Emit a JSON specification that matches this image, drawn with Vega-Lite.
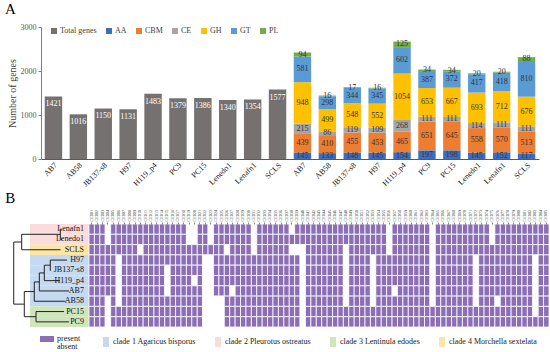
{
"$schema": "https://vega.github.io/schema/vega-lite/v6.json",
"padding": {"left": 5, "top": 2, "right": 0, "bottom": 0},
"background": "white",
"config": {"font": "Liberation Serif", "view": {"stroke": null}},
"spacing": 2,
"resolve": {"scale": {"color": "independent", "fill": "independent"}},
"datasets": {
"totals": [
{"key":"AB7|t","type":"Total genes","value":1421},{"key":"AB58|t","type":"Total genes","value":1016},{"key":"JB137-s8|t","type":"Total genes","value":1150},{"key":"H97|t","type":"Total genes","value":1131},{"key":"H119_p4|t","type":"Total genes","value":1483},{"key":"PC9|t","type":"Total genes","value":1379},{"key":"PC15|t","type":"Total genes","value":1386},{"key":"Lenedo1|t","type":"Total genes","value":1340},{"key":"Lenafn1|t","type":"Total genes","value":1354},{"key":"SCLS|t","type":"Total genes","value":1577}],
"cazy": [
{"key":"AB7|c","type":"AA","value":145},{"key":"AB7|c","type":"CBM","value":439},{"key":"AB7|c","type":"CE","value":215},{"key":"AB7|c","type":"GH","value":948},{"key":"AB7|c","type":"GT","value":581},{"key":"AB7|c","type":"PL","value":94},
{"key":"AB58|c","type":"AA","value":133},{"key":"AB58|c","type":"CBM","value":410},{"key":"AB58|c","type":"CE","value":86},{"key":"AB58|c","type":"GH","value":499},{"key":"AB58|c","type":"GT","value":298},{"key":"AB58|c","type":"PL","value":16},
{"key":"JB137-s8|c","type":"AA","value":148},{"key":"JB137-s8|c","type":"CBM","value":455},{"key":"JB137-s8|c","type":"CE","value":119},{"key":"JB137-s8|c","type":"GH","value":548},{"key":"JB137-s8|c","type":"GT","value":344},{"key":"JB137-s8|c","type":"PL","value":17},
{"key":"H97|c","type":"AA","value":145},{"key":"H97|c","type":"CBM","value":453},{"key":"H97|c","type":"CE","value":109},{"key":"H97|c","type":"GH","value":552},{"key":"H97|c","type":"GT","value":345},{"key":"H97|c","type":"PL","value":16},
{"key":"H119_p4|c","type":"AA","value":154},{"key":"H119_p4|c","type":"CBM","value":465},{"key":"H119_p4|c","type":"CE","value":268},{"key":"H119_p4|c","type":"GH","value":1054},{"key":"H119_p4|c","type":"GT","value":602},{"key":"H119_p4|c","type":"PL","value":125},
{"key":"PC9|c","type":"AA","value":197},{"key":"PC9|c","type":"CBM","value":651},{"key":"PC9|c","type":"CE","value":111},{"key":"PC9|c","type":"GH","value":653},{"key":"PC9|c","type":"GT","value":387},{"key":"PC9|c","type":"PL","value":34},
{"key":"PC15|c","type":"AA","value":198},{"key":"PC15|c","type":"CBM","value":645},{"key":"PC15|c","type":"CE","value":111},{"key":"PC15|c","type":"GH","value":667},{"key":"PC15|c","type":"GT","value":372},{"key":"PC15|c","type":"PL","value":34},
{"key":"Lenedo1|c","type":"AA","value":145},{"key":"Lenedo1|c","type":"CBM","value":558},{"key":"Lenedo1|c","type":"CE","value":114},{"key":"Lenedo1|c","type":"GH","value":693},{"key":"Lenedo1|c","type":"GT","value":417},{"key":"Lenedo1|c","type":"PL","value":20},
{"key":"Lenafn1|c","type":"AA","value":152},{"key":"Lenafn1|c","type":"CBM","value":570},{"key":"Lenafn1|c","type":"CE","value":111},{"key":"Lenafn1|c","type":"GH","value":712},{"key":"Lenafn1|c","type":"GT","value":418},{"key":"Lenafn1|c","type":"PL","value":20},
{"key":"SCLS|c","type":"AA","value":117},{"key":"SCLS|c","type":"CBM","value":513},{"key":"SCLS|c","type":"CE","value":111},{"key":"SCLS|c","type":"GH","value":676},{"key":"SCLS|c","type":"GT","value":810},{"key":"SCLS|c","type":"PL","value":88}],
"clades": [
{"g":"Lenafn1","clade":"clade 2 Pleurotus ostreatus"},{"g":"Lenedo1","clade":"clade 2 Pleurotus ostreatus"},{"g":"SCLS","clade":"clade 4 Morchella sextelata"},{"g":"H97","clade":"clade 1 Agaricus bisporus"},{"g":"JB137-s8","clade":"clade 1 Agaricus bisporus"},{"g":"H119_p4","clade":"clade 1 Agaricus bisporus"},{"g":"AB7","clade":"clade 1 Agaricus bisporus"},{"g":"AB58","clade":"clade 1 Agaricus bisporus"},{"g":"PC15","clade":"clade 3 Lentinula edodes"},{"g":"PC9","clade":"clade 3 Lentinula edodes"}],
"tree": [
{"x1":0.013,"x2":0.013,"y1":1.75,"y2":7.78},{"x1":0.013,"x2":0.17,"y1":1.75,"y2":1.75},{"x1":0.013,"x2":0.221,"y1":7.78,"y2":7.78},
{"x1":0.17,"x2":0.17,"y1":1.0,"y2":2.5},{"x1":0.17,"x2":0.93,"y1":1.0,"y2":1.0},{"x1":0.17,"x2":0.934,"y1":2.5,"y2":2.5},
{"x1":0.93,"x2":0.93,"y1":0.5,"y2":1.5},{"x1":0.93,"x2":0.963,"y1":0.5,"y2":0.5},{"x1":0.93,"x2":0.963,"y1":1.5,"y2":1.5},
{"x1":0.221,"x2":0.221,"y1":6.56,"y2":9.0},{"x1":0.221,"x2":0.452,"y1":9.0,"y2":9.0},{"x1":0.452,"x2":0.452,"y1":8.5,"y2":9.5},
{"x1":0.452,"x2":1.003,"y1":8.5,"y2":8.5},{"x1":0.452,"x2":1.101,"y1":9.5,"y2":9.5},
{"x1":0.221,"x2":0.418,"y1":6.56,"y2":6.56},{"x1":0.418,"x2":0.418,"y1":5.625,"y2":7.5},{"x1":0.418,"x2":1.032,"y1":7.5,"y2":7.5},
{"x1":0.418,"x2":0.517,"y1":5.625,"y2":5.625},{"x1":0.517,"x2":0.517,"y1":4.75,"y2":6.5},{"x1":0.517,"x2":1.101,"y1":6.5,"y2":6.5},
{"x1":0.517,"x2":0.615,"y1":4.75,"y2":4.75},{"x1":0.615,"x2":0.615,"y1":4.0,"y2":5.5},{"x1":0.615,"x2":0.924,"y1":5.5,"y2":5.5},
{"x1":0.615,"x2":0.733,"y1":4.0,"y2":4.0},{"x1":0.733,"x2":0.733,"y1":3.5,"y2":4.5},{"x1":0.733,"x2":1.062,"y1":3.5,"y2":3.5},{"x1":0.733,"x2":0.745,"y1":4.5,"y2":4.5}],
"pa": [
{"c":"CE001","g":"Lenafn1","p":1},{"c":"CE002","g":"Lenafn1","p":1},{"c":"CE003","g":"Lenafn1","p":1},{"c":"CE004","g":"Lenafn1","p":0},{"c":"CE005","g":"Lenafn1","p":1},{"c":"CE006","g":"Lenafn1","p":1},{"c":"CE007","g":"Lenafn1","p":1},{"c":"CE008","g":"Lenafn1","p":1},{"c":"CE009","g":"Lenafn1","p":1},{"c":"CE010","g":"Lenafn1","p":1},{"c":"CE011","g":"Lenafn1","p":1},{"c":"CE012","g":"Lenafn1","p":1},{"c":"CE013","g":"Lenafn1","p":1},{"c":"CE014","g":"Lenafn1","p":1},{"c":"CE015","g":"Lenafn1","p":1},{"c":"CE016","g":"Lenafn1","p":1},{"c":"CE017","g":"Lenafn1","p":1},{"c":"CE018","g":"Lenafn1","p":1},{"c":"CE019","g":"Lenafn1","p":0},{"c":"CE020","g":"Lenafn1","p":0},{"c":"CE021","g":"Lenafn1","p":1},{"c":"CE022","g":"Lenafn1","p":1},{"c":"CE023","g":"Lenafn1","p":0},{"c":"CE024","g":"Lenafn1","p":1},{"c":"CE025","g":"Lenafn1","p":1},{"c":"CE026","g":"Lenafn1","p":1},{"c":"CE027","g":"Lenafn1","p":1},{"c":"CE028","g":"Lenafn1","p":1},{"c":"CE029","g":"Lenafn1","p":1},{"c":"CE030","g":"Lenafn1","p":1},{"c":"CE031","g":"Lenafn1","p":0},{"c":"CE032","g":"Lenafn1","p":1},{"c":"CE033","g":"Lenafn1","p":1},{"c":"CE034","g":"Lenafn1","p":1},{"c":"CE035","g":"Lenafn1","p":1},{"c":"CE036","g":"Lenafn1","p":1},{"c":"CE037","g":"Lenafn1","p":1},{"c":"CE038","g":"Lenafn1","p":0},{"c":"CE039","g":"Lenafn1","p":1},{"c":"CE040","g":"Lenafn1","p":1},{"c":"CE041","g":"Lenafn1","p":1},{"c":"CE042","g":"Lenafn1","p":1},{"c":"CE043","g":"Lenafn1","p":1},{"c":"CE044","g":"Lenafn1","p":1},{"c":"CE045","g":"Lenafn1","p":1},{"c":"CE046","g":"Lenafn1","p":1},{"c":"CE047","g":"Lenafn1","p":1},{"c":"CE048","g":"Lenafn1","p":1},{"c":"CE049","g":"Lenafn1","p":1},{"c":"CE050","g":"Lenafn1","p":1},{"c":"CE051","g":"Lenafn1","p":1},{"c":"CE052","g":"Lenafn1","p":1},{"c":"CE053","g":"Lenafn1","p":1},{"c":"CE054","g":"Lenafn1","p":1},{"c":"CE055","g":"Lenafn1","p":1},{"c":"CE056","g":"Lenafn1","p":0},{"c":"CE057","g":"Lenafn1","p":1},{"c":"CE058","g":"Lenafn1","p":1},{"c":"CE059","g":"Lenafn1","p":1},{"c":"CE060","g":"Lenafn1","p":1},{"c":"CE061","g":"Lenafn1","p":1},{"c":"CE062","g":"Lenafn1","p":1},{"c":"CE063","g":"Lenafn1","p":1},{"c":"CE064","g":"Lenafn1","p":0},{"c":"CE065","g":"Lenafn1","p":1},{"c":"CE066","g":"Lenafn1","p":1},{"c":"CE067","g":"Lenafn1","p":1},{"c":"CE068","g":"Lenafn1","p":1},{"c":"CE069","g":"Lenafn1","p":1},{"c":"CE070","g":"Lenafn1","p":1},{"c":"CE071","g":"Lenafn1","p":1},{"c":"CE072","g":"Lenafn1","p":1},{"c":"CE073","g":"Lenafn1","p":1},{"c":"CE074","g":"Lenafn1","p":1},{"c":"CE075","g":"Lenafn1","p":0},{"c":"CE076","g":"Lenafn1","p":1},{"c":"CE077","g":"Lenafn1","p":1},{"c":"CE078","g":"Lenafn1","p":1},{"c":"CE079","g":"Lenafn1","p":1},{"c":"CE080","g":"Lenafn1","p":1},{"c":"CE081","g":"Lenafn1","p":1},{"c":"CE082","g":"Lenafn1","p":1},{"c":"CE083","g":"Lenafn1","p":1},{"c":"CE084","g":"Lenafn1","p":1},{"c":"CE085","g":"Lenafn1","p":1},
{"c":"CE001","g":"Lenedo1","p":1},{"c":"CE002","g":"Lenedo1","p":1},{"c":"CE003","g":"Lenedo1","p":1},{"c":"CE004","g":"Lenedo1","p":0},{"c":"CE005","g":"Lenedo1","p":1},{"c":"CE006","g":"Lenedo1","p":1},{"c":"CE007","g":"Lenedo1","p":1},{"c":"CE008","g":"Lenedo1","p":1},{"c":"CE009","g":"Lenedo1","p":1},{"c":"CE010","g":"Lenedo1","p":1},{"c":"CE011","g":"Lenedo1","p":1},{"c":"CE012","g":"Lenedo1","p":1},{"c":"CE013","g":"Lenedo1","p":1},{"c":"CE014","g":"Lenedo1","p":1},{"c":"CE015","g":"Lenedo1","p":1},{"c":"CE016","g":"Lenedo1","p":1},{"c":"CE017","g":"Lenedo1","p":1},{"c":"CE018","g":"Lenedo1","p":1},{"c":"CE019","g":"Lenedo1","p":0},{"c":"CE020","g":"Lenedo1","p":0},{"c":"CE021","g":"Lenedo1","p":1},{"c":"CE022","g":"Lenedo1","p":1},{"c":"CE023","g":"Lenedo1","p":0},{"c":"CE024","g":"Lenedo1","p":1},{"c":"CE025","g":"Lenedo1","p":1},{"c":"CE026","g":"Lenedo1","p":1},{"c":"CE027","g":"Lenedo1","p":1},{"c":"CE028","g":"Lenedo1","p":1},{"c":"CE029","g":"Lenedo1","p":1},{"c":"CE030","g":"Lenedo1","p":1},{"c":"CE031","g":"Lenedo1","p":0},{"c":"CE032","g":"Lenedo1","p":1},{"c":"CE033","g":"Lenedo1","p":1},{"c":"CE034","g":"Lenedo1","p":1},{"c":"CE035","g":"Lenedo1","p":1},{"c":"CE036","g":"Lenedo1","p":1},{"c":"CE037","g":"Lenedo1","p":1},{"c":"CE038","g":"Lenedo1","p":1},{"c":"CE039","g":"Lenedo1","p":1},{"c":"CE040","g":"Lenedo1","p":1},{"c":"CE041","g":"Lenedo1","p":1},{"c":"CE042","g":"Lenedo1","p":1},{"c":"CE043","g":"Lenedo1","p":1},{"c":"CE044","g":"Lenedo1","p":1},{"c":"CE045","g":"Lenedo1","p":1},{"c":"CE046","g":"Lenedo1","p":1},{"c":"CE047","g":"Lenedo1","p":1},{"c":"CE048","g":"Lenedo1","p":1},{"c":"CE049","g":"Lenedo1","p":1},{"c":"CE050","g":"Lenedo1","p":1},{"c":"CE051","g":"Lenedo1","p":1},{"c":"CE052","g":"Lenedo1","p":1},{"c":"CE053","g":"Lenedo1","p":1},{"c":"CE054","g":"Lenedo1","p":1},{"c":"CE055","g":"Lenedo1","p":1},{"c":"CE056","g":"Lenedo1","p":0},{"c":"CE057","g":"Lenedo1","p":1},{"c":"CE058","g":"Lenedo1","p":1},{"c":"CE059","g":"Lenedo1","p":1},{"c":"CE060","g":"Lenedo1","p":1},{"c":"CE061","g":"Lenedo1","p":1},{"c":"CE062","g":"Lenedo1","p":1},{"c":"CE063","g":"Lenedo1","p":1},{"c":"CE064","g":"Lenedo1","p":0},{"c":"CE065","g":"Lenedo1","p":1},{"c":"CE066","g":"Lenedo1","p":1},{"c":"CE067","g":"Lenedo1","p":1},{"c":"CE068","g":"Lenedo1","p":1},{"c":"CE069","g":"Lenedo1","p":1},{"c":"CE070","g":"Lenedo1","p":1},{"c":"CE071","g":"Lenedo1","p":1},{"c":"CE072","g":"Lenedo1","p":1},{"c":"CE073","g":"Lenedo1","p":1},{"c":"CE074","g":"Lenedo1","p":1},{"c":"CE075","g":"Lenedo1","p":0},{"c":"CE076","g":"Lenedo1","p":1},{"c":"CE077","g":"Lenedo1","p":1},{"c":"CE078","g":"Lenedo1","p":1},{"c":"CE079","g":"Lenedo1","p":1},{"c":"CE080","g":"Lenedo1","p":1},{"c":"CE081","g":"Lenedo1","p":1},{"c":"CE082","g":"Lenedo1","p":1},{"c":"CE083","g":"Lenedo1","p":1},{"c":"CE084","g":"Lenedo1","p":1},{"c":"CE085","g":"Lenedo1","p":1},
{"c":"CE001","g":"SCLS","p":1},{"c":"CE002","g":"SCLS","p":1},{"c":"CE003","g":"SCLS","p":1},{"c":"CE004","g":"SCLS","p":1},{"c":"CE005","g":"SCLS","p":1},{"c":"CE006","g":"SCLS","p":1},{"c":"CE007","g":"SCLS","p":1},{"c":"CE008","g":"SCLS","p":1},{"c":"CE009","g":"SCLS","p":1},{"c":"CE010","g":"SCLS","p":0},{"c":"CE011","g":"SCLS","p":1},{"c":"CE012","g":"SCLS","p":1},{"c":"CE013","g":"SCLS","p":1},{"c":"CE014","g":"SCLS","p":1},{"c":"CE015","g":"SCLS","p":1},{"c":"CE016","g":"SCLS","p":1},{"c":"CE017","g":"SCLS","p":1},{"c":"CE018","g":"SCLS","p":1},{"c":"CE019","g":"SCLS","p":1},{"c":"CE020","g":"SCLS","p":1},{"c":"CE021","g":"SCLS","p":1},{"c":"CE022","g":"SCLS","p":1},{"c":"CE023","g":"SCLS","p":1},{"c":"CE024","g":"SCLS","p":1},{"c":"CE025","g":"SCLS","p":1},{"c":"CE026","g":"SCLS","p":0},{"c":"CE027","g":"SCLS","p":1},{"c":"CE028","g":"SCLS","p":1},{"c":"CE029","g":"SCLS","p":1},{"c":"CE030","g":"SCLS","p":1},{"c":"CE031","g":"SCLS","p":0},{"c":"CE032","g":"SCLS","p":1},{"c":"CE033","g":"SCLS","p":1},{"c":"CE034","g":"SCLS","p":1},{"c":"CE035","g":"SCLS","p":1},{"c":"CE036","g":"SCLS","p":1},{"c":"CE037","g":"SCLS","p":1},{"c":"CE038","g":"SCLS","p":0},{"c":"CE039","g":"SCLS","p":0},{"c":"CE040","g":"SCLS","p":0},{"c":"CE041","g":"SCLS","p":1},{"c":"CE042","g":"SCLS","p":1},{"c":"CE043","g":"SCLS","p":1},{"c":"CE044","g":"SCLS","p":1},{"c":"CE045","g":"SCLS","p":1},{"c":"CE046","g":"SCLS","p":1},{"c":"CE047","g":"SCLS","p":1},{"c":"CE048","g":"SCLS","p":0},{"c":"CE049","g":"SCLS","p":1},{"c":"CE050","g":"SCLS","p":1},{"c":"CE051","g":"SCLS","p":1},{"c":"CE052","g":"SCLS","p":1},{"c":"CE053","g":"SCLS","p":1},{"c":"CE054","g":"SCLS","p":1},{"c":"CE055","g":"SCLS","p":1},{"c":"CE056","g":"SCLS","p":0},{"c":"CE057","g":"SCLS","p":1},{"c":"CE058","g":"SCLS","p":1},{"c":"CE059","g":"SCLS","p":1},{"c":"CE060","g":"SCLS","p":1},{"c":"CE061","g":"SCLS","p":1},{"c":"CE062","g":"SCLS","p":1},{"c":"CE063","g":"SCLS","p":1},{"c":"CE064","g":"SCLS","p":0},{"c":"CE065","g":"SCLS","p":1},{"c":"CE066","g":"SCLS","p":1},{"c":"CE067","g":"SCLS","p":1},{"c":"CE068","g":"SCLS","p":1},{"c":"CE069","g":"SCLS","p":1},{"c":"CE070","g":"SCLS","p":1},{"c":"CE071","g":"SCLS","p":1},{"c":"CE072","g":"SCLS","p":1},{"c":"CE073","g":"SCLS","p":1},{"c":"CE074","g":"SCLS","p":1},{"c":"CE075","g":"SCLS","p":1},{"c":"CE076","g":"SCLS","p":1},{"c":"CE077","g":"SCLS","p":1},{"c":"CE078","g":"SCLS","p":1},{"c":"CE079","g":"SCLS","p":1},{"c":"CE080","g":"SCLS","p":1},{"c":"CE081","g":"SCLS","p":1},{"c":"CE082","g":"SCLS","p":1},{"c":"CE083","g":"SCLS","p":1},{"c":"CE084","g":"SCLS","p":1},{"c":"CE085","g":"SCLS","p":1},
{"c":"CE001","g":"H97","p":1},{"c":"CE002","g":"H97","p":1},{"c":"CE003","g":"H97","p":1},{"c":"CE004","g":"H97","p":1},{"c":"CE005","g":"H97","p":1},{"c":"CE006","g":"H97","p":0},{"c":"CE007","g":"H97","p":1},{"c":"CE008","g":"H97","p":1},{"c":"CE009","g":"H97","p":1},{"c":"CE010","g":"H97","p":1},{"c":"CE011","g":"H97","p":1},{"c":"CE012","g":"H97","p":1},{"c":"CE013","g":"H97","p":1},{"c":"CE014","g":"H97","p":1},{"c":"CE015","g":"H97","p":1},{"c":"CE016","g":"H97","p":1},{"c":"CE017","g":"H97","p":1},{"c":"CE018","g":"H97","p":1},{"c":"CE019","g":"H97","p":1},{"c":"CE020","g":"H97","p":1},{"c":"CE021","g":"H97","p":1},{"c":"CE022","g":"H97","p":0},{"c":"CE023","g":"H97","p":0},{"c":"CE024","g":"H97","p":1},{"c":"CE025","g":"H97","p":1},{"c":"CE026","g":"H97","p":1},{"c":"CE027","g":"H97","p":1},{"c":"CE028","g":"H97","p":1},{"c":"CE029","g":"H97","p":1},{"c":"CE030","g":"H97","p":1},{"c":"CE031","g":"H97","p":1},{"c":"CE032","g":"H97","p":1},{"c":"CE033","g":"H97","p":1},{"c":"CE034","g":"H97","p":1},{"c":"CE035","g":"H97","p":1},{"c":"CE036","g":"H97","p":1},{"c":"CE037","g":"H97","p":1},{"c":"CE038","g":"H97","p":1},{"c":"CE039","g":"H97","p":1},{"c":"CE040","g":"H97","p":0},{"c":"CE041","g":"H97","p":1},{"c":"CE042","g":"H97","p":1},{"c":"CE043","g":"H97","p":1},{"c":"CE044","g":"H97","p":1},{"c":"CE045","g":"H97","p":1},{"c":"CE046","g":"H97","p":1},{"c":"CE047","g":"H97","p":1},{"c":"CE048","g":"H97","p":0},{"c":"CE049","g":"H97","p":1},{"c":"CE050","g":"H97","p":1},{"c":"CE051","g":"H97","p":1},{"c":"CE052","g":"H97","p":1},{"c":"CE053","g":"H97","p":0},{"c":"CE054","g":"H97","p":1},{"c":"CE055","g":"H97","p":1},{"c":"CE056","g":"H97","p":1},{"c":"CE057","g":"H97","p":1},{"c":"CE058","g":"H97","p":1},{"c":"CE059","g":"H97","p":1},{"c":"CE060","g":"H97","p":1},{"c":"CE061","g":"H97","p":1},{"c":"CE062","g":"H97","p":1},{"c":"CE063","g":"H97","p":1},{"c":"CE064","g":"H97","p":0},{"c":"CE065","g":"H97","p":1},{"c":"CE066","g":"H97","p":1},{"c":"CE067","g":"H97","p":1},{"c":"CE068","g":"H97","p":1},{"c":"CE069","g":"H97","p":1},{"c":"CE070","g":"H97","p":1},{"c":"CE071","g":"H97","p":1},{"c":"CE072","g":"H97","p":0},{"c":"CE073","g":"H97","p":1},{"c":"CE074","g":"H97","p":1},{"c":"CE075","g":"H97","p":1},{"c":"CE076","g":"H97","p":1},{"c":"CE077","g":"H97","p":1},{"c":"CE078","g":"H97","p":1},{"c":"CE079","g":"H97","p":1},{"c":"CE080","g":"H97","p":1},{"c":"CE081","g":"H97","p":1},{"c":"CE082","g":"H97","p":1},{"c":"CE083","g":"H97","p":0},{"c":"CE084","g":"H97","p":1},{"c":"CE085","g":"H97","p":1},
{"c":"CE001","g":"JB137-s8","p":1},{"c":"CE002","g":"JB137-s8","p":1},{"c":"CE003","g":"JB137-s8","p":1},{"c":"CE004","g":"JB137-s8","p":1},{"c":"CE005","g":"JB137-s8","p":1},{"c":"CE006","g":"JB137-s8","p":0},{"c":"CE007","g":"JB137-s8","p":1},{"c":"CE008","g":"JB137-s8","p":1},{"c":"CE009","g":"JB137-s8","p":1},{"c":"CE010","g":"JB137-s8","p":1},{"c":"CE011","g":"JB137-s8","p":1},{"c":"CE012","g":"JB137-s8","p":1},{"c":"CE013","g":"JB137-s8","p":1},{"c":"CE014","g":"JB137-s8","p":1},{"c":"CE015","g":"JB137-s8","p":0},{"c":"CE016","g":"JB137-s8","p":1},{"c":"CE017","g":"JB137-s8","p":1},{"c":"CE018","g":"JB137-s8","p":1},{"c":"CE019","g":"JB137-s8","p":1},{"c":"CE020","g":"JB137-s8","p":1},{"c":"CE021","g":"JB137-s8","p":1},{"c":"CE022","g":"JB137-s8","p":0},{"c":"CE023","g":"JB137-s8","p":0},{"c":"CE024","g":"JB137-s8","p":1},{"c":"CE025","g":"JB137-s8","p":1},{"c":"CE026","g":"JB137-s8","p":1},{"c":"CE027","g":"JB137-s8","p":1},{"c":"CE028","g":"JB137-s8","p":1},{"c":"CE029","g":"JB137-s8","p":1},{"c":"CE030","g":"JB137-s8","p":1},{"c":"CE031","g":"JB137-s8","p":1},{"c":"CE032","g":"JB137-s8","p":1},{"c":"CE033","g":"JB137-s8","p":1},{"c":"CE034","g":"JB137-s8","p":1},{"c":"CE035","g":"JB137-s8","p":1},{"c":"CE036","g":"JB137-s8","p":1},{"c":"CE037","g":"JB137-s8","p":1},{"c":"CE038","g":"JB137-s8","p":1},{"c":"CE039","g":"JB137-s8","p":1},{"c":"CE040","g":"JB137-s8","p":0},{"c":"CE041","g":"JB137-s8","p":1},{"c":"CE042","g":"JB137-s8","p":1},{"c":"CE043","g":"JB137-s8","p":1},{"c":"CE044","g":"JB137-s8","p":1},{"c":"CE045","g":"JB137-s8","p":1},{"c":"CE046","g":"JB137-s8","p":1},{"c":"CE047","g":"JB137-s8","p":1},{"c":"CE048","g":"JB137-s8","p":0},{"c":"CE049","g":"JB137-s8","p":1},{"c":"CE050","g":"JB137-s8","p":1},{"c":"CE051","g":"JB137-s8","p":1},{"c":"CE052","g":"JB137-s8","p":1},{"c":"CE053","g":"JB137-s8","p":0},{"c":"CE054","g":"JB137-s8","p":1},{"c":"CE055","g":"JB137-s8","p":1},{"c":"CE056","g":"JB137-s8","p":1},{"c":"CE057","g":"JB137-s8","p":1},{"c":"CE058","g":"JB137-s8","p":1},{"c":"CE059","g":"JB137-s8","p":1},{"c":"CE060","g":"JB137-s8","p":1},{"c":"CE061","g":"JB137-s8","p":1},{"c":"CE062","g":"JB137-s8","p":1},{"c":"CE063","g":"JB137-s8","p":1},{"c":"CE064","g":"JB137-s8","p":0},{"c":"CE065","g":"JB137-s8","p":1},{"c":"CE066","g":"JB137-s8","p":1},{"c":"CE067","g":"JB137-s8","p":1},{"c":"CE068","g":"JB137-s8","p":1},{"c":"CE069","g":"JB137-s8","p":1},{"c":"CE070","g":"JB137-s8","p":1},{"c":"CE071","g":"JB137-s8","p":1},{"c":"CE072","g":"JB137-s8","p":0},{"c":"CE073","g":"JB137-s8","p":1},{"c":"CE074","g":"JB137-s8","p":1},{"c":"CE075","g":"JB137-s8","p":1},{"c":"CE076","g":"JB137-s8","p":1},{"c":"CE077","g":"JB137-s8","p":1},{"c":"CE078","g":"JB137-s8","p":1},{"c":"CE079","g":"JB137-s8","p":1},{"c":"CE080","g":"JB137-s8","p":1},{"c":"CE081","g":"JB137-s8","p":1},{"c":"CE082","g":"JB137-s8","p":1},{"c":"CE083","g":"JB137-s8","p":0},{"c":"CE084","g":"JB137-s8","p":1},{"c":"CE085","g":"JB137-s8","p":1},
{"c":"CE001","g":"H119_p4","p":1},{"c":"CE002","g":"H119_p4","p":1},{"c":"CE003","g":"H119_p4","p":1},{"c":"CE004","g":"H119_p4","p":1},{"c":"CE005","g":"H119_p4","p":1},{"c":"CE006","g":"H119_p4","p":0},{"c":"CE007","g":"H119_p4","p":1},{"c":"CE008","g":"H119_p4","p":1},{"c":"CE009","g":"H119_p4","p":1},{"c":"CE010","g":"H119_p4","p":1},{"c":"CE011","g":"H119_p4","p":1},{"c":"CE012","g":"H119_p4","p":1},{"c":"CE013","g":"H119_p4","p":1},{"c":"CE014","g":"H119_p4","p":1},{"c":"CE015","g":"H119_p4","p":0},{"c":"CE016","g":"H119_p4","p":1},{"c":"CE017","g":"H119_p4","p":1},{"c":"CE018","g":"H119_p4","p":1},{"c":"CE019","g":"H119_p4","p":1},{"c":"CE020","g":"H119_p4","p":0},{"c":"CE021","g":"H119_p4","p":1},{"c":"CE022","g":"H119_p4","p":0},{"c":"CE023","g":"H119_p4","p":0},{"c":"CE024","g":"H119_p4","p":1},{"c":"CE025","g":"H119_p4","p":1},{"c":"CE026","g":"H119_p4","p":1},{"c":"CE027","g":"H119_p4","p":1},{"c":"CE028","g":"H119_p4","p":1},{"c":"CE029","g":"H119_p4","p":1},{"c":"CE030","g":"H119_p4","p":1},{"c":"CE031","g":"H119_p4","p":1},{"c":"CE032","g":"H119_p4","p":1},{"c":"CE033","g":"H119_p4","p":1},{"c":"CE034","g":"H119_p4","p":1},{"c":"CE035","g":"H119_p4","p":1},{"c":"CE036","g":"H119_p4","p":1},{"c":"CE037","g":"H119_p4","p":1},{"c":"CE038","g":"H119_p4","p":1},{"c":"CE039","g":"H119_p4","p":1},{"c":"CE040","g":"H119_p4","p":0},{"c":"CE041","g":"H119_p4","p":1},{"c":"CE042","g":"H119_p4","p":1},{"c":"CE043","g":"H119_p4","p":1},{"c":"CE044","g":"H119_p4","p":1},{"c":"CE045","g":"H119_p4","p":1},{"c":"CE046","g":"H119_p4","p":1},{"c":"CE047","g":"H119_p4","p":1},{"c":"CE048","g":"H119_p4","p":0},{"c":"CE049","g":"H119_p4","p":1},{"c":"CE050","g":"H119_p4","p":1},{"c":"CE051","g":"H119_p4","p":1},{"c":"CE052","g":"H119_p4","p":1},{"c":"CE053","g":"H119_p4","p":0},{"c":"CE054","g":"H119_p4","p":1},{"c":"CE055","g":"H119_p4","p":1},{"c":"CE056","g":"H119_p4","p":1},{"c":"CE057","g":"H119_p4","p":1},{"c":"CE058","g":"H119_p4","p":1},{"c":"CE059","g":"H119_p4","p":1},{"c":"CE060","g":"H119_p4","p":1},{"c":"CE061","g":"H119_p4","p":1},{"c":"CE062","g":"H119_p4","p":1},{"c":"CE063","g":"H119_p4","p":1},{"c":"CE064","g":"H119_p4","p":0},{"c":"CE065","g":"H119_p4","p":1},{"c":"CE066","g":"H119_p4","p":1},{"c":"CE067","g":"H119_p4","p":1},{"c":"CE068","g":"H119_p4","p":1},{"c":"CE069","g":"H119_p4","p":1},{"c":"CE070","g":"H119_p4","p":1},{"c":"CE071","g":"H119_p4","p":1},{"c":"CE072","g":"H119_p4","p":0},{"c":"CE073","g":"H119_p4","p":1},{"c":"CE074","g":"H119_p4","p":1},{"c":"CE075","g":"H119_p4","p":1},{"c":"CE076","g":"H119_p4","p":1},{"c":"CE077","g":"H119_p4","p":1},{"c":"CE078","g":"H119_p4","p":1},{"c":"CE079","g":"H119_p4","p":1},{"c":"CE080","g":"H119_p4","p":1},{"c":"CE081","g":"H119_p4","p":1},{"c":"CE082","g":"H119_p4","p":1},{"c":"CE083","g":"H119_p4","p":0},{"c":"CE084","g":"H119_p4","p":1},{"c":"CE085","g":"H119_p4","p":1},
{"c":"CE001","g":"AB7","p":1},{"c":"CE002","g":"AB7","p":1},{"c":"CE003","g":"AB7","p":1},{"c":"CE004","g":"AB7","p":1},{"c":"CE005","g":"AB7","p":1},{"c":"CE006","g":"AB7","p":0},{"c":"CE007","g":"AB7","p":1},{"c":"CE008","g":"AB7","p":1},{"c":"CE009","g":"AB7","p":1},{"c":"CE010","g":"AB7","p":1},{"c":"CE011","g":"AB7","p":1},{"c":"CE012","g":"AB7","p":1},{"c":"CE013","g":"AB7","p":1},{"c":"CE014","g":"AB7","p":1},{"c":"CE015","g":"AB7","p":0},{"c":"CE016","g":"AB7","p":1},{"c":"CE017","g":"AB7","p":1},{"c":"CE018","g":"AB7","p":1},{"c":"CE019","g":"AB7","p":1},{"c":"CE020","g":"AB7","p":1},{"c":"CE021","g":"AB7","p":1},{"c":"CE022","g":"AB7","p":0},{"c":"CE023","g":"AB7","p":0},{"c":"CE024","g":"AB7","p":1},{"c":"CE025","g":"AB7","p":1},{"c":"CE026","g":"AB7","p":1},{"c":"CE027","g":"AB7","p":0},{"c":"CE028","g":"AB7","p":1},{"c":"CE029","g":"AB7","p":1},{"c":"CE030","g":"AB7","p":1},{"c":"CE031","g":"AB7","p":1},{"c":"CE032","g":"AB7","p":1},{"c":"CE033","g":"AB7","p":1},{"c":"CE034","g":"AB7","p":1},{"c":"CE035","g":"AB7","p":1},{"c":"CE036","g":"AB7","p":1},{"c":"CE037","g":"AB7","p":1},{"c":"CE038","g":"AB7","p":1},{"c":"CE039","g":"AB7","p":1},{"c":"CE040","g":"AB7","p":0},{"c":"CE041","g":"AB7","p":1},{"c":"CE042","g":"AB7","p":1},{"c":"CE043","g":"AB7","p":1},{"c":"CE044","g":"AB7","p":1},{"c":"CE045","g":"AB7","p":1},{"c":"CE046","g":"AB7","p":1},{"c":"CE047","g":"AB7","p":1},{"c":"CE048","g":"AB7","p":0},{"c":"CE049","g":"AB7","p":1},{"c":"CE050","g":"AB7","p":1},{"c":"CE051","g":"AB7","p":1},{"c":"CE052","g":"AB7","p":1},{"c":"CE053","g":"AB7","p":0},{"c":"CE054","g":"AB7","p":1},{"c":"CE055","g":"AB7","p":1},{"c":"CE056","g":"AB7","p":1},{"c":"CE057","g":"AB7","p":0},{"c":"CE058","g":"AB7","p":1},{"c":"CE059","g":"AB7","p":1},{"c":"CE060","g":"AB7","p":1},{"c":"CE061","g":"AB7","p":1},{"c":"CE062","g":"AB7","p":1},{"c":"CE063","g":"AB7","p":1},{"c":"CE064","g":"AB7","p":0},{"c":"CE065","g":"AB7","p":1},{"c":"CE066","g":"AB7","p":1},{"c":"CE067","g":"AB7","p":1},{"c":"CE068","g":"AB7","p":1},{"c":"CE069","g":"AB7","p":1},{"c":"CE070","g":"AB7","p":1},{"c":"CE071","g":"AB7","p":1},{"c":"CE072","g":"AB7","p":0},{"c":"CE073","g":"AB7","p":1},{"c":"CE074","g":"AB7","p":1},{"c":"CE075","g":"AB7","p":1},{"c":"CE076","g":"AB7","p":1},{"c":"CE077","g":"AB7","p":1},{"c":"CE078","g":"AB7","p":1},{"c":"CE079","g":"AB7","p":1},{"c":"CE080","g":"AB7","p":1},{"c":"CE081","g":"AB7","p":1},{"c":"CE082","g":"AB7","p":1},{"c":"CE083","g":"AB7","p":0},{"c":"CE084","g":"AB7","p":1},{"c":"CE085","g":"AB7","p":1},
{"c":"CE001","g":"AB58","p":1},{"c":"CE002","g":"AB58","p":1},{"c":"CE003","g":"AB58","p":1},{"c":"CE004","g":"AB58","p":0},{"c":"CE005","g":"AB58","p":1},{"c":"CE006","g":"AB58","p":0},{"c":"CE007","g":"AB58","p":1},{"c":"CE008","g":"AB58","p":1},{"c":"CE009","g":"AB58","p":1},{"c":"CE010","g":"AB58","p":1},{"c":"CE011","g":"AB58","p":1},{"c":"CE012","g":"AB58","p":1},{"c":"CE013","g":"AB58","p":1},{"c":"CE014","g":"AB58","p":1},{"c":"CE015","g":"AB58","p":1},{"c":"CE016","g":"AB58","p":1},{"c":"CE017","g":"AB58","p":1},{"c":"CE018","g":"AB58","p":1},{"c":"CE019","g":"AB58","p":1},{"c":"CE020","g":"AB58","p":1},{"c":"CE021","g":"AB58","p":1},{"c":"CE022","g":"AB58","p":0},{"c":"CE023","g":"AB58","p":0},{"c":"CE024","g":"AB58","p":0},{"c":"CE025","g":"AB58","p":0},{"c":"CE026","g":"AB58","p":1},{"c":"CE027","g":"AB58","p":1},{"c":"CE028","g":"AB58","p":1},{"c":"CE029","g":"AB58","p":1},{"c":"CE030","g":"AB58","p":1},{"c":"CE031","g":"AB58","p":1},{"c":"CE032","g":"AB58","p":1},{"c":"CE033","g":"AB58","p":1},{"c":"CE034","g":"AB58","p":1},{"c":"CE035","g":"AB58","p":1},{"c":"CE036","g":"AB58","p":1},{"c":"CE037","g":"AB58","p":1},{"c":"CE038","g":"AB58","p":1},{"c":"CE039","g":"AB58","p":1},{"c":"CE040","g":"AB58","p":0},{"c":"CE041","g":"AB58","p":1},{"c":"CE042","g":"AB58","p":1},{"c":"CE043","g":"AB58","p":1},{"c":"CE044","g":"AB58","p":1},{"c":"CE045","g":"AB58","p":1},{"c":"CE046","g":"AB58","p":1},{"c":"CE047","g":"AB58","p":1},{"c":"CE048","g":"AB58","p":0},{"c":"CE049","g":"AB58","p":1},{"c":"CE050","g":"AB58","p":1},{"c":"CE051","g":"AB58","p":1},{"c":"CE052","g":"AB58","p":1},{"c":"CE053","g":"AB58","p":0},{"c":"CE054","g":"AB58","p":1},{"c":"CE055","g":"AB58","p":1},{"c":"CE056","g":"AB58","p":1},{"c":"CE057","g":"AB58","p":1},{"c":"CE058","g":"AB58","p":1},{"c":"CE059","g":"AB58","p":1},{"c":"CE060","g":"AB58","p":1},{"c":"CE061","g":"AB58","p":1},{"c":"CE062","g":"AB58","p":1},{"c":"CE063","g":"AB58","p":1},{"c":"CE064","g":"AB58","p":0},{"c":"CE065","g":"AB58","p":1},{"c":"CE066","g":"AB58","p":1},{"c":"CE067","g":"AB58","p":1},{"c":"CE068","g":"AB58","p":1},{"c":"CE069","g":"AB58","p":1},{"c":"CE070","g":"AB58","p":1},{"c":"CE071","g":"AB58","p":1},{"c":"CE072","g":"AB58","p":0},{"c":"CE073","g":"AB58","p":1},{"c":"CE074","g":"AB58","p":1},{"c":"CE075","g":"AB58","p":1},{"c":"CE076","g":"AB58","p":0},{"c":"CE077","g":"AB58","p":1},{"c":"CE078","g":"AB58","p":1},{"c":"CE079","g":"AB58","p":1},{"c":"CE080","g":"AB58","p":1},{"c":"CE081","g":"AB58","p":1},{"c":"CE082","g":"AB58","p":1},{"c":"CE083","g":"AB58","p":0},{"c":"CE084","g":"AB58","p":1},{"c":"CE085","g":"AB58","p":1},
{"c":"CE001","g":"PC15","p":1},{"c":"CE002","g":"PC15","p":1},{"c":"CE003","g":"PC15","p":1},{"c":"CE004","g":"PC15","p":0},{"c":"CE005","g":"PC15","p":1},{"c":"CE006","g":"PC15","p":1},{"c":"CE007","g":"PC15","p":1},{"c":"CE008","g":"PC15","p":1},{"c":"CE009","g":"PC15","p":1},{"c":"CE010","g":"PC15","p":1},{"c":"CE011","g":"PC15","p":1},{"c":"CE012","g":"PC15","p":1},{"c":"CE013","g":"PC15","p":1},{"c":"CE014","g":"PC15","p":1},{"c":"CE015","g":"PC15","p":1},{"c":"CE016","g":"PC15","p":1},{"c":"CE017","g":"PC15","p":1},{"c":"CE018","g":"PC15","p":1},{"c":"CE019","g":"PC15","p":1},{"c":"CE020","g":"PC15","p":1},{"c":"CE021","g":"PC15","p":1},{"c":"CE022","g":"PC15","p":0},{"c":"CE023","g":"PC15","p":0},{"c":"CE024","g":"PC15","p":0},{"c":"CE025","g":"PC15","p":0},{"c":"CE026","g":"PC15","p":1},{"c":"CE027","g":"PC15","p":1},{"c":"CE028","g":"PC15","p":1},{"c":"CE029","g":"PC15","p":1},{"c":"CE030","g":"PC15","p":1},{"c":"CE031","g":"PC15","p":1},{"c":"CE032","g":"PC15","p":1},{"c":"CE033","g":"PC15","p":1},{"c":"CE034","g":"PC15","p":1},{"c":"CE035","g":"PC15","p":1},{"c":"CE036","g":"PC15","p":1},{"c":"CE037","g":"PC15","p":1},{"c":"CE038","g":"PC15","p":1},{"c":"CE039","g":"PC15","p":1},{"c":"CE040","g":"PC15","p":0},{"c":"CE041","g":"PC15","p":1},{"c":"CE042","g":"PC15","p":1},{"c":"CE043","g":"PC15","p":1},{"c":"CE044","g":"PC15","p":1},{"c":"CE045","g":"PC15","p":1},{"c":"CE046","g":"PC15","p":1},{"c":"CE047","g":"PC15","p":1},{"c":"CE048","g":"PC15","p":1},{"c":"CE049","g":"PC15","p":1},{"c":"CE050","g":"PC15","p":1},{"c":"CE051","g":"PC15","p":1},{"c":"CE052","g":"PC15","p":1},{"c":"CE053","g":"PC15","p":1},{"c":"CE054","g":"PC15","p":1},{"c":"CE055","g":"PC15","p":1},{"c":"CE056","g":"PC15","p":1},{"c":"CE057","g":"PC15","p":1},{"c":"CE058","g":"PC15","p":1},{"c":"CE059","g":"PC15","p":1},{"c":"CE060","g":"PC15","p":1},{"c":"CE061","g":"PC15","p":1},{"c":"CE062","g":"PC15","p":1},{"c":"CE063","g":"PC15","p":1},{"c":"CE064","g":"PC15","p":1},{"c":"CE065","g":"PC15","p":1},{"c":"CE066","g":"PC15","p":1},{"c":"CE067","g":"PC15","p":1},{"c":"CE068","g":"PC15","p":1},{"c":"CE069","g":"PC15","p":1},{"c":"CE070","g":"PC15","p":1},{"c":"CE071","g":"PC15","p":1},{"c":"CE072","g":"PC15","p":1},{"c":"CE073","g":"PC15","p":1},{"c":"CE074","g":"PC15","p":1},{"c":"CE075","g":"PC15","p":1},{"c":"CE076","g":"PC15","p":1},{"c":"CE077","g":"PC15","p":1},{"c":"CE078","g":"PC15","p":1},{"c":"CE079","g":"PC15","p":1},{"c":"CE080","g":"PC15","p":1},{"c":"CE081","g":"PC15","p":1},{"c":"CE082","g":"PC15","p":1},{"c":"CE083","g":"PC15","p":0},{"c":"CE084","g":"PC15","p":1},{"c":"CE085","g":"PC15","p":1},
{"c":"CE001","g":"PC9","p":1},{"c":"CE002","g":"PC9","p":1},{"c":"CE003","g":"PC9","p":1},{"c":"CE004","g":"PC9","p":0},{"c":"CE005","g":"PC9","p":1},{"c":"CE006","g":"PC9","p":1},{"c":"CE007","g":"PC9","p":1},{"c":"CE008","g":"PC9","p":1},{"c":"CE009","g":"PC9","p":1},{"c":"CE010","g":"PC9","p":1},{"c":"CE011","g":"PC9","p":1},{"c":"CE012","g":"PC9","p":1},{"c":"CE013","g":"PC9","p":1},{"c":"CE014","g":"PC9","p":1},{"c":"CE015","g":"PC9","p":1},{"c":"CE016","g":"PC9","p":1},{"c":"CE017","g":"PC9","p":1},{"c":"CE018","g":"PC9","p":1},{"c":"CE019","g":"PC9","p":1},{"c":"CE020","g":"PC9","p":1},{"c":"CE021","g":"PC9","p":1},{"c":"CE022","g":"PC9","p":0},{"c":"CE023","g":"PC9","p":0},{"c":"CE024","g":"PC9","p":0},{"c":"CE025","g":"PC9","p":0},{"c":"CE026","g":"PC9","p":1},{"c":"CE027","g":"PC9","p":1},{"c":"CE028","g":"PC9","p":1},{"c":"CE029","g":"PC9","p":1},{"c":"CE030","g":"PC9","p":1},{"c":"CE031","g":"PC9","p":1},{"c":"CE032","g":"PC9","p":1},{"c":"CE033","g":"PC9","p":1},{"c":"CE034","g":"PC9","p":1},{"c":"CE035","g":"PC9","p":1},{"c":"CE036","g":"PC9","p":1},{"c":"CE037","g":"PC9","p":1},{"c":"CE038","g":"PC9","p":1},{"c":"CE039","g":"PC9","p":1},{"c":"CE040","g":"PC9","p":0},{"c":"CE041","g":"PC9","p":1},{"c":"CE042","g":"PC9","p":1},{"c":"CE043","g":"PC9","p":1},{"c":"CE044","g":"PC9","p":1},{"c":"CE045","g":"PC9","p":1},{"c":"CE046","g":"PC9","p":1},{"c":"CE047","g":"PC9","p":1},{"c":"CE048","g":"PC9","p":1},{"c":"CE049","g":"PC9","p":1},{"c":"CE050","g":"PC9","p":1},{"c":"CE051","g":"PC9","p":1},{"c":"CE052","g":"PC9","p":1},{"c":"CE053","g":"PC9","p":1},{"c":"CE054","g":"PC9","p":1},{"c":"CE055","g":"PC9","p":1},{"c":"CE056","g":"PC9","p":1},{"c":"CE057","g":"PC9","p":1},{"c":"CE058","g":"PC9","p":1},{"c":"CE059","g":"PC9","p":1},{"c":"CE060","g":"PC9","p":1},{"c":"CE061","g":"PC9","p":1},{"c":"CE062","g":"PC9","p":1},{"c":"CE063","g":"PC9","p":1},{"c":"CE064","g":"PC9","p":1},{"c":"CE065","g":"PC9","p":1},{"c":"CE066","g":"PC9","p":1},{"c":"CE067","g":"PC9","p":1},{"c":"CE068","g":"PC9","p":1},{"c":"CE069","g":"PC9","p":1},{"c":"CE070","g":"PC9","p":1},{"c":"CE071","g":"PC9","p":1},{"c":"CE072","g":"PC9","p":1},{"c":"CE073","g":"PC9","p":1},{"c":"CE074","g":"PC9","p":1},{"c":"CE075","g":"PC9","p":1},{"c":"CE076","g":"PC9","p":1},{"c":"CE077","g":"PC9","p":1},{"c":"CE078","g":"PC9","p":1},{"c":"CE079","g":"PC9","p":1},{"c":"CE080","g":"PC9","p":1},{"c":"CE081","g":"PC9","p":1},{"c":"CE082","g":"PC9","p":1},{"c":"CE083","g":"PC9","p":1},{"c":"CE084","g":"PC9","p":1},{"c":"CE085","g":"PC9","p":1}]
},
"vconcat": [
{
"width": 498, "height": 132,
"title": {"text": "A", "anchor": "start", "frame": "bounds", "fontSize": 15, "fontWeight": "normal", "offset": 6, "dx": -2},
"encoding": {
 "x": {"field": "key", "type": "nominal", "title": null,
  "scale": {"domain": ["AB7|t","AB58|t","JB137-s8|t","H97|t","H119_p4|t","PC9|t","PC15|t","Lenedo1|t","Lenafn1|t","SCLS|t","AB7|c","AB58|c","JB137-s8|c","H97|c","H119_p4|c","PC9|c","PC15|c","Lenedo1|c","Lenafn1|c","SCLS|c"], "paddingInner": 0.3, "paddingOuter": 0.15},
  "axis": {"labelExpr": "split(datum.label, '|')[0]", "labelAngle": -45, "labelAlign": "right", "labelBaseline": "top", "labelFontSize": 8, "labelColor": "#222", "labelPadding": 2, "ticks": false, "domainColor": "#595959", "domainWidth": 1.2}}
},
"layer": [
 {"data": {"name": "totals"}, "mark": {"type": "bar"},
  "encoding": {
   "y": {"field": "value", "type": "quantitative", "scale": {"domain": [0, 3000], "nice": false},
    "axis": {"title": "Number of genes", "values": [0, 1000, 2000, 3000], "format": "d", "grid": false, "labelFontSize": 8, "labelColor": "#595959", "titleFontSize": 10, "titleFontWeight": "normal", "titleColor": "#404040", "tickSize": 3, "labelPadding": 2, "titlePadding": 3, "domainColor": "#7f7f7f", "tickColor": "#7f7f7f"}},
   "color": {"field": "type", "type": "nominal",
    "scale": {"domain": ["Total genes","AA","CBM","CE","GH","GT","PL"], "range": ["#767171","#3E6DC0","#ED7D31","#A5A5A5","#FFC000","#5B9BD5","#70AD47"]},
    "legend": {"title": null, "orient": "none", "legendX": 9, "legendY": 0, "direction": "horizontal", "symbolType": "square", "symbolSize": 36, "labelFontSize": 8, "labelColor": "#404040", "columnPadding": 8, "labelOffset": 2, "padding": 0}}
  }},
 {"data": {"name": "totals"}, "mark": {"type": "text", "color": "white", "fontSize": 8, "dy": 8},
  "encoding": {"y": {"field": "value", "type": "quantitative"}, "text": {"field": "value"}}},
 {"data": {"name": "cazy"},
  "transform": [{"stack": "value", "groupby": ["key"], "sort": [{"field": "type", "order": "ascending"}], "as": ["v0", "v1"]}, {"calculate": "(datum.v0 + datum.v1) / 2", "as": "mid"}],
  "layer": [
   {"mark": {"type": "bar"}, "encoding": {"y": {"field": "v0", "type": "quantitative"}, "y2": {"field": "v1"}, "color": {"field": "type", "type": "nominal"}}},
   {"mark": {"type": "text", "color": "#333", "fontSize": 8}, "encoding": {"y": {"field": "mid", "type": "quantitative"}, "text": {"field": "value"}}}
  ]}
]
},
{
"title": {"text": "B", "anchor": "start", "frame": "bounds", "fontSize": 15, "fontWeight": "normal", "offset": -2, "dx": -8},
"spacing": 0,
"bounds": "flush",
"hconcat": [
{
"width": 48, "height": 103,
"resolve": {"scale": {"x": "independent", "y": "independent"}},
"layer": [
 {"data": {"name": "clades"}, "mark": {"type": "rect"},
  "encoding": {
   "x": {"datum": 0.333, "type": "quantitative", "scale": {"domain": [0.55, 1.495], "nice": false, "zero": false}, "axis": null},
   "x2": {"datum": 1.495},
   "y": {"field": "g", "type": "nominal", "sort": null, "scale": {"domain": ["Lenafn1","Lenedo1","SCLS","H97","JB137-s8","H119_p4","AB7","AB58","PC15","PC9"], "paddingInner": 0, "paddingOuter": 0}, "axis": null},
   "fill": {"field": "clade", "type": "nominal",
    "scale": {"domain": ["clade 1 Agaricus bisporus","clade 2 Pleurotus ostreatus","clade 3 Lentinula edodes","clade 4 Morchella sextelata"], "range": ["#C5DAF0","#FADCDC","#CFE5BA","#FCE6A6"]},
    "legend": {"title": null, "orient": "none", "legendX": 60, "legendY": 113, "direction": "horizontal", "symbolType": "M-0.6,-1H0.6V1H-0.6Z", "symbolSize": 100, "symbolStrokeWidth": 0, "labelFontSize": 8, "labelColor": "#222", "columnPadding": 17, "labelOffset": 2, "padding": 0}}
  }},
 {"data": {"name": "clades"}, "mark": {"type": "text", "align": "right", "baseline": "middle", "fontSize": 8, "color": "#111"},
  "encoding": {
   "x": {"datum": 1.396, "type": "quantitative", "scale": {"domain": [0.55, 1.495], "nice": false, "zero": false}, "axis": null},
   "y": {"field": "g", "type": "nominal", "sort": null, "scale": {"domain": ["Lenafn1","Lenedo1","SCLS","H97","JB137-s8","H119_p4","AB7","AB58","PC15","PC9"], "paddingInner": 0, "paddingOuter": 0}, "axis": null},
   "text": {"field": "g"}
  }},
 {"data": {"name": "tree"}, "mark": {"type": "rule", "color": "#222", "strokeWidth": 1},
  "encoding": {
   "x": {"field": "x1", "type": "quantitative", "scale": {"domain": [0.55, 1.495], "nice": false, "zero": false}, "axis": null},
   "x2": {"field": "x2"},
   "y": {"field": "y1", "type": "quantitative", "scale": {"domain": [0, 10], "reverse": true, "nice": false, "zero": false}, "axis": null},
   "y2": {"field": "y2"}
  }}
]
},
{
"width": 460, "height": 103,
"data": {"name": "pa"},
"mark": {"type": "rect", "stroke": "white", "strokeWidth": 0.8},
"encoding": {
 "x": {"field": "c", "type": "nominal", "sort": null, "scale": {"paddingInner": 0, "paddingOuter": 0},
  "axis": {"orient": "top", "title": null, "labelAngle": -90, "labelAlign": "left", "labelBaseline": "middle", "labelFontSize": 4.2, "labelPadding": 1, "tickSize": 2, "tickColor": "#888", "domain": false, "labelColor": "#444", "minExtent": 20, "maxExtent": 20}},
 "y": {"field": "g", "type": "nominal", "sort": null, "scale": {"domain": ["Lenafn1","Lenedo1","SCLS","H97","JB137-s8","H119_p4","AB7","AB58","PC15","PC9"], "paddingInner": 0, "paddingOuter": 0}, "axis": null},
 "color": {"field": "p", "type": "nominal", "scale": {"domain": [1, 0], "range": ["#8C6EB6", "#FFFFFF"]},
  "legend": {"title": null, "orient": "none", "legendX": 2, "legendY": 111, "direction": "vertical", "labelExpr": "datum.value == 1 ? 'present' : 'absent'", "symbolType": "M-2,-0.85H2V0.85H-2Z", "symbolSize": 49, "symbolStrokeWidth": 0, "labelFontSize": 8, "labelColor": "#222", "labelOffset": 6, "rowPadding": 0, "padding": 0}}
}
}
]
}
]
}
